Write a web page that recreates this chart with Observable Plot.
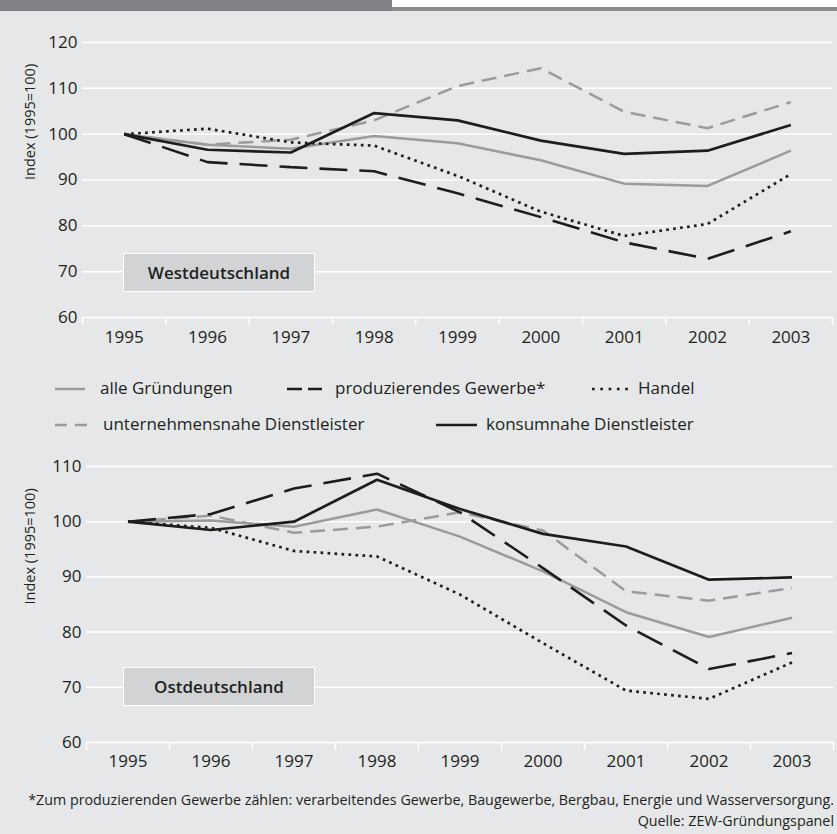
<!DOCTYPE html>
<html>
<head>
<meta charset="utf-8">
<script src="https://cdn.jsdelivr.net/npm/d3@7"></script>
<script src="https://cdn.jsdelivr.net/npm/@observablehq/plot@0.6"></script>
<style>
  html, body { margin: 0; padding: 0; }
  body { width: 837px; height: 834px; overflow: hidden; background: #e6e7e8; font-family: "Open Sans", sans-serif; color: #231f20; }
  #root { position: relative; width: 837px; height: 834px; background: #e6e7e8; }
  .abs { position: absolute; }
  .box { position: absolute; background: #d1d3d4; border: 1.5px solid #ffffff; box-sizing: border-box; display: flex; align-items: center; justify-content: center; font-weight: 600; font-size: 17px; color: #231f20; z-index: 5; }
  .leg { position: absolute; font-size: 17px; line-height: 20px; white-space: nowrap; }
  .foot { position: absolute; right: 3px; font-size: 14.3px; white-space: nowrap; text-align: right; }
</style>
</head>
<body>
<div id="root">
  <div class="abs" style="left:0;top:0;width:392px;height:11px;background:#808285;"></div>
  <div class="abs" style="left:392px;top:0;width:445px;height:7px;background:#ffffff;"></div>
  <div class="abs" style="left:392px;top:7px;width:445px;height:4px;background:#8a8b8d;"></div>
  <div id="west" class="abs" style="left:0;top:0;"></div>
  <div id="east" class="abs" style="left:0;top:440px;"></div>
  <div class="box" style="left:123px;top:253px;width:192px;height:39px;">Westdeutschland</div>
  <div class="box" style="left:123px;top:667px;width:192px;height:39px;">Ostdeutschland</div>
  <div id="legend"></div>
  <div class="foot" style="top:790px;">*Zum produzierenden Gewerbe zählen: verarbeitendes Gewerbe, Baugewerbe, Bergbau, Energie und Wasserversorgung.</div>
  <div class="foot" style="top:811px;">Quelle: ZEW-Gründungspanel</div>
</div>
<script>
// ---- data ----
const years = [1995, 1996, 1997, 1998, 1999, 2000, 2001, 2002, 2003];

const seriesNames = ["alle Gründungen", "produzierendes Gewerbe*", "Handel", "unternehmensnahe Dienstleister", "konsumnahe Dienstleister"];

// Westdeutschland
const westAlle     = [100, 97.7, 96.8, 99.6, 98.0, 94.3, 89.2, 88.7, 96.4];
const westProd     = [100, 93.9, 92.8, 91.9, 87.1, 81.9, 76.4, 72.8, 78.8];
const westHandel   = [100, 101.2, 98.2, 97.5, 90.9, 83.1, 77.8, 80.4, 91.3];
const westUntern   = [100, 97.7, 98.8, 103.0, 110.5, 114.4, 104.9, 101.3, 107.0];
const westKonsum   = [100, 96.6, 96.0, 104.6, 103.0, 98.6, 95.7, 96.4, 102.0];

// Ostdeutschland
const eastAlle     = [100, 100.2, 99.1, 102.2, 97.3, 91.0, 83.6, 79.1, 82.6];
const eastProd     = [100, 101.4, 106.0, 108.7, 101.7, 91.6, 81.2, 73.3, 76.2];
const eastHandel   = [100, 98.9, 94.7, 93.7, 86.8, 78.0, 69.4, 67.9, 74.5];
const eastUntern   = [100, 101.1, 98.0, 99.1, 101.7, 98.4, 87.4, 85.7, 88.0];
const eastKonsum   = [100, 98.5, 100.0, 107.6, 102.3, 97.8, 95.5, 89.5, 89.9];

const westTicks = [60, 70, 80, 90, 100, 110, 120];
const eastTicks = [60, 70, 80, 90, 100, 110];
const yLabel = "Index (1995=100)";

// ---- styles ----
const GRAY = "#9a9b9d", BLACK = "#1d1d1b", TEXT = "#231f20";
const styles = [
  {stroke: GRAY,  strokeWidth: 2.5, dash: null},          // alle
  {stroke: BLACK, strokeWidth: 2.6, dash: "28,12"},       // produzierendes
  {stroke: BLACK, strokeWidth: 2.7, dash: "2.7,4.3"},     // Handel
  {stroke: GRAY,  strokeWidth: 2.5, dash: "15,8"},        // unternehmensnahe
  {stroke: BLACK, strokeWidth: 2.7, dash: null}           // konsumnahe
];
const drawOrder = [0, 3, 1, 2, 4];

function toRows(arr) { return years.map((yr, i) => ({year: yr, value: arr[i]})); }

function chart(seriesArrays, ticks, opts) {
  const halfTicks = years.map(y => y - 0.5).concat([years[years.length - 1] + 0.5]);
  const marks = [
    Plot.gridY(ticks, {stroke: "#ffffff", strokeOpacity: 1, strokeWidth: 1.5}),
    Plot.axisX(halfTicks, {tickSize: 8, stroke: "#ffffff", strokeWidth: 1.5, strokeOpacity: 1, tickFormat: () => "", label: null}),
    Plot.axisX(years, {tickSize: 0, tickPadding: opts.xPad, tickFormat: d => String(d), fontSize: 17, fill: TEXT, label: null}),
    Plot.axisY(ticks, {tickSize: 0, tickPadding: 5, fontSize: 17, fill: TEXT, label: null}),
    Plot.text([yLabel], {frameAnchor: "left", rotate: -90, dx: opts.labelDx, fontSize: 14.5, fill: TEXT})
  ];
  for (const k of drawOrder) {
    const s = styles[k];
    const o = {x: "year", y: "value", stroke: s.stroke, strokeWidth: s.strokeWidth, strokeLinecap: "butt", strokeLinejoin: "miter"};
    if (s.dash) o.strokeDasharray = s.dash;
    marks.push(Plot.line(toRows(seriesArrays[k]), o));
  }
  return Plot.plot({
    width: 837,
    height: opts.height,
    marginLeft: opts.ml,
    marginRight: opts.mr,
    marginTop: opts.mt,
    marginBottom: opts.mb,
    style: {background: "transparent", fontFamily: "'Open Sans', sans-serif", color: TEXT},
    x: {domain: [1994.5, 2003.5], axis: null},
    y: {domain: [ticks[0], ticks[ticks.length - 1]], axis: null},
    marks
  });
}

document.getElementById("west").appendChild(chart(
  [westAlle, westProd, westHandel, westUntern, westKonsum], westTicks,
  {height: 360, ml: 82, mr: 5, mt: 42, mb: 43, xPad: 13, labelDx: -52}
));
document.getElementById("east").appendChild(chart(
  [eastAlle, eastProd, eastHandel, eastUntern, eastKonsum], eastTicks,
  {height: 338, ml: 86, mr: 4, mt: 26, mb: 36, xPad: 12, labelDx: -56}
));

// ---- legend ----
const legendItems = [
  {k: 0, x1: 55, x2: 85, tx: 100, cy: 389},
  {k: 1, x1: 287, x2: 322, tx: 335, cy: 389, dash: "15,6"},
  {k: 2, x1: 592, x2: 628, tx: 638, cy: 389, dash: "2.7,5.6"},
  {k: 3, x1: 55, x2: 88, tx: 103, cy: 425, dash: "12,8"},
  {k: 4, x1: 436, x2: 477, tx: 486, cy: 425}
];
const legend = document.getElementById("legend");
for (const it of legendItems) {
  const s = styles[it.k];
  const svg = d3.create("svg").attr("width", it.x2 - it.x1 + 2).attr("height", 8)
    .style("position", "absolute").style("left", (it.x1 - 1) + "px").style("top", (it.cy - 4) + "px");
  svg.append("line").attr("x1", 1).attr("x2", it.x2 - it.x1 + 1).attr("y1", 4).attr("y2", 4)
    .attr("stroke", s.stroke).attr("stroke-width", s.strokeWidth)
    .attr("stroke-dasharray", it.dash || null);
  legend.appendChild(svg.node());
  const t = document.createElement("div");
  t.className = "leg";
  t.style.left = it.tx + "px";
  t.style.top = (it.cy - 11) + "px";
  t.textContent = seriesNames[it.k];
  legend.appendChild(t);
}
</script>
</body>
</html>
